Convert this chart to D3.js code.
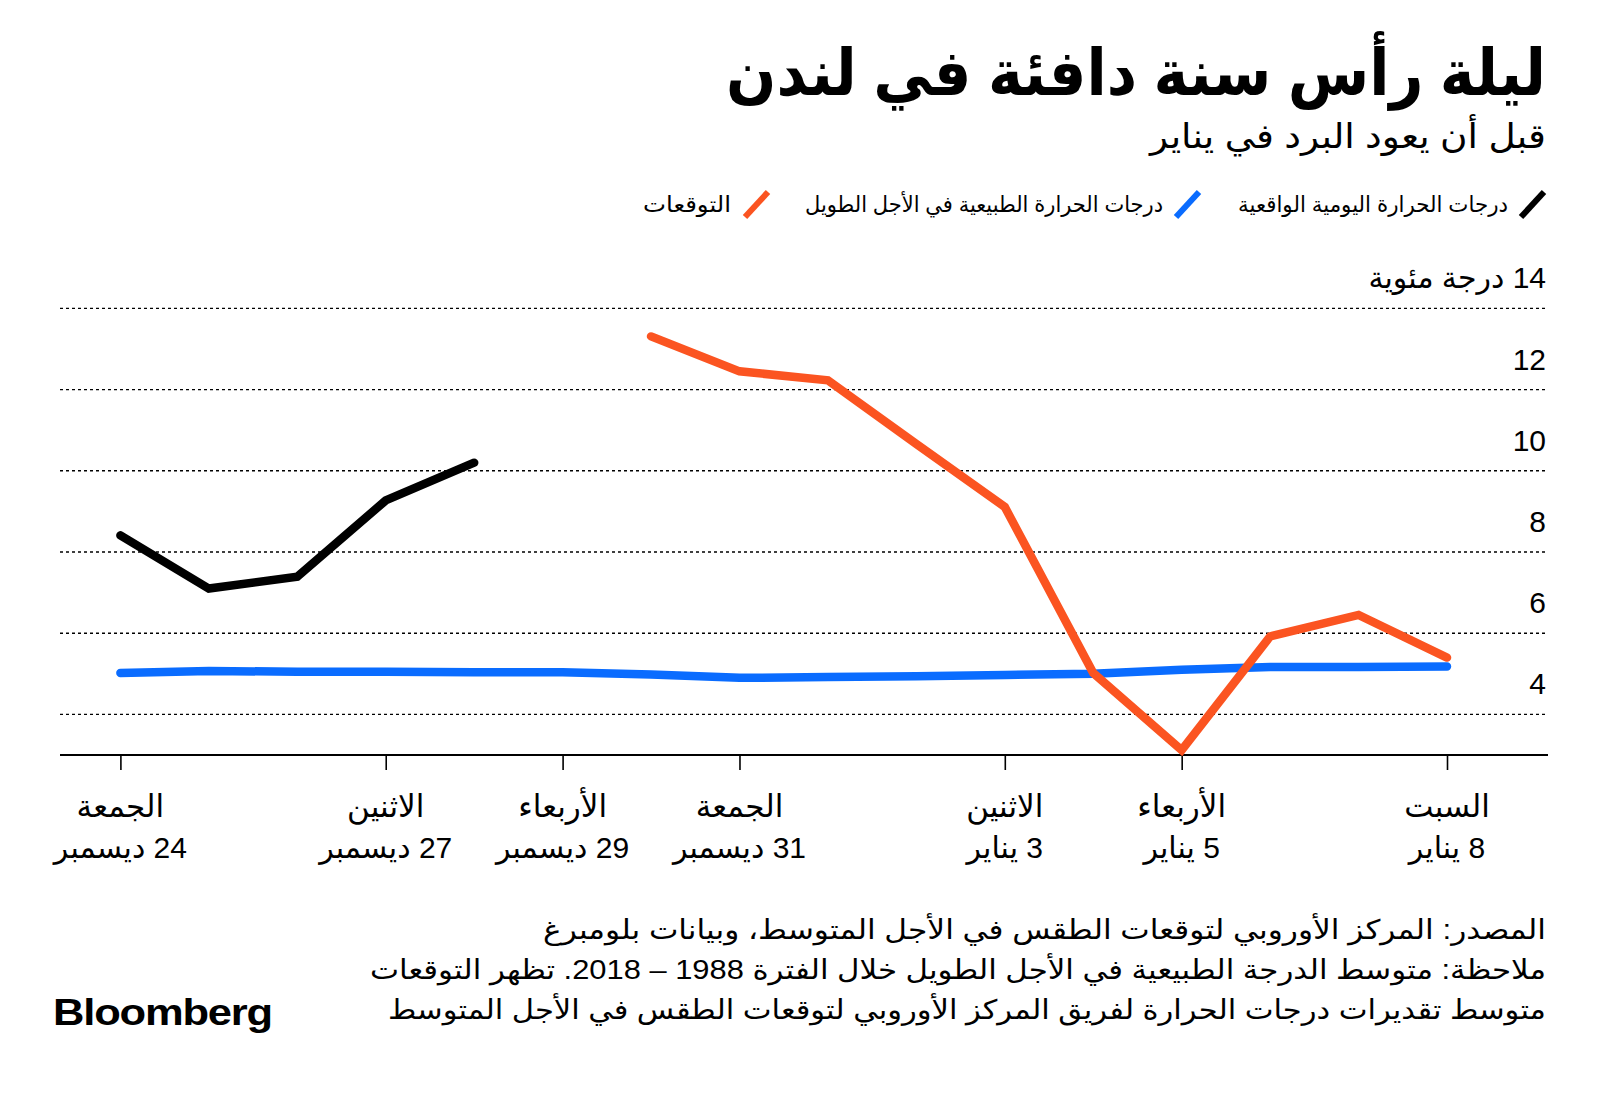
<!DOCTYPE html>
<html>
<head>
<meta charset="utf-8">
<script src="https://cdn.jsdelivr.net/npm/d3@7/dist/d3.min.js"></script>
<style>
  html, body { margin: 0; padding: 0; background: #fff; }
  svg { display: block; }
  text { font-family: "Liberation Sans Narrow", "Liberation Sans", "DejaVu Sans", sans-serif; }
</style>
</head>
<body>
<svg id="chart" width="1600" height="1093"></svg>
<script>
// ---- Data ----
const dates = ["2021-12-24","2021-12-25","2021-12-26","2021-12-27","2021-12-28","2021-12-29","2021-12-30","2021-12-31",
               "2022-01-01","2022-01-02","2022-01-03","2022-01-04","2022-01-05","2022-01-06","2022-01-07","2022-01-08"];
const actual = [8.41, 7.10, 7.39, 9.27, 10.20, null, null, null, null, null, null, null, null, null, null, null];
const normal = [5.02, 5.07, 5.05, 5.05, 5.04, 5.04, 4.98, 4.90, 4.92, 4.94, 4.97, 5.00, 5.10, 5.17, 5.17, 5.18];
const forecast = [null, null, null, null, null, null, 13.31, 12.45, 12.23, 10.66, 9.11, 5.02, 3.12, 5.92, 6.45, 5.40];
const yTicks = [4, 6, 8, 10, 12, 14];
const xTickDates = ["2021-12-24","2021-12-27","2021-12-29","2021-12-31","2022-01-03","2022-01-05","2022-01-08"];
const xTickDays = ["الجمعة","الاثنين","الأربعاء","الجمعة","الاثنين","الأربعاء","السبت"];
const xTickDateLabels = ["24 ديسمبر","27 ديسمبر","29 ديسمبر","31 ديسمبر","3 يناير","5 يناير","8 يناير"];
const seriesNames = ["درجات الحرارة اليومية الواقعية","درجات الحرارة الطبيعية في الأجل الطويل","التوقعات"];
const title = "ليلة رأس سنة دافئة في لندن";
const subtitle = "قبل أن يعود البرد في يناير";
const yUnit = "درجة مئوية";
const footnotes = [
  "المصدر: المركز الأوروبي لتوقعات الطقس في الأجل المتوسط، وبيانات بلومبرغ",
  "ملاحظة: متوسط الدرجة الطبيعية في الأجل الطويل خلال الفترة 1988 – 2018. تظهر التوقعات",
  "متوسط تقديرات درجات الحرارة لفريق المركز الأوروبي لتوقعات الطقس في الأجل المتوسط"
];

// ---- Setup ----
const parse = d3.utcParse("%Y-%m-%d");
const svg = d3.select("#chart");
const colors = ["#000000", "#0a6cff", "#fb5421"];

const x = d3.scaleUtc().domain([parse(dates[0]), parse(dates[dates.length - 1])]).range([120.4, 1447]);
const y = d3.scaleLinear().domain([3, 14]).range([755, 308.4]);
const plotLeft = 60, plotRight = 1548, rightEdge = 1546;

function rtl(sel, px, py, txt, size, weight, anchor, width) {
  const t = sel.append("text")
    .attr("x", px).attr("y", py)
    .attr("direction", "rtl")
    .attr("text-anchor", anchor)
    .attr("font-size", size)
    .attr("font-weight", weight)
    .attr("fill", "#000")
    .text(txt);
  if (width) t.attr("textLength", width).attr("lengthAdjust", "spacingAndGlyphs");
  return t;
}

// Title & subtitle
rtl(svg, rightEdge, 95, title, 64, "bold", "start", 820);
rtl(svg, rightEdge, 148, subtitle, 34, "normal", "start", 396);

// Legend
const legendItems = [
  { iconX: 1518, textX: 1508, w: 270 },
  { iconX: 1173, textX: 1163, w: 358 },
  { iconX: 742, textX: 731, w: 88 }
];
legendItems.forEach((it, i) => {
  svg.append("line")
    .attr("x1", it.iconX + 3).attr("y1", 217)
    .attr("x2", it.iconX + 26).attr("y2", 192)
    .attr("stroke", colors[i]).attr("stroke-width", 6);
  rtl(svg, it.textX, 212, seriesNames[i], 22, "normal", "start", it.w);
});

// Gridlines
svg.append("g").selectAll("line").data(yTicks).join("line")
  .attr("x1", plotLeft).attr("x2", plotRight)
  .attr("y1", d => y(d)).attr("y2", d => y(d))
  .attr("stroke", "#000").attr("stroke-width", 1.4)
  .attr("stroke-dasharray", "3,3");

// Y tick labels
svg.append("g").selectAll("text").data(yTicks).join("text")
  .attr("x", rightEdge).attr("y", d => y(d) - 20)
  .attr("direction", "rtl")
  .attr("text-anchor", "start")
  .attr("font-size", 30)
  .attr("fill", "#000")
  .text(d => d === 14 ? d + " " + yUnit : String(d));

// X axis
const xAxis = d3.axisBottom(x)
  .tickValues(xTickDates.map(parse))
  .tickSize(15)
  .tickFormat("");
const ax = svg.append("g").attr("transform", "translate(0,755)").call(xAxis);
ax.select(".domain").remove();
ax.selectAll(".tick line").attr("stroke", "#000").attr("stroke-width", 1.6);
svg.append("line").attr("x1", plotLeft).attr("x2", plotRight).attr("y1", 755).attr("y2", 755)
  .attr("stroke", "#000").attr("stroke-width", 2.2);

xTickDates.forEach((d, i) => {
  const px = x(parse(d));
  rtl(svg, px, 817, xTickDays[i], 31, "normal", "middle");
  rtl(svg, px, 858, xTickDateLabels[i], 30, "normal", "middle");
});

// Lines
const series = [actual, normal, forecast];
const line = d3.line()
  .defined(d => d.v !== null)
  .x(d => x(d.date))
  .y(d => y(d.v));
series.forEach((s, i) => {
  const pts = dates.map((d, j) => ({ date: parse(d), v: s[j] }));
  svg.append("path")
    .datum(pts)
    .attr("d", line)
    .attr("fill", "none")
    .attr("stroke", colors[i])
    .attr("stroke-width", 8.5)
    .attr("stroke-linejoin", "miter")
    .attr("stroke-linecap", "round");
});

// Footnotes
const footW = [1003, 1176, 1158];
footnotes.forEach((f, i) => {
  rtl(svg, rightEdge, 939 + i * 40, f, 27, "normal", "start", footW[i]);
});

// Bloomberg logo
svg.append("text")
  .attr("x", 53).attr("y", 1025)
  .attr("font-family", "Liberation Sans, Arial, sans-serif")
  .attr("font-size", 37)
  .attr("font-weight", "bold")
  .attr("letter-spacing", -1)
  .attr("textLength", 219)
  .attr("lengthAdjust", "spacingAndGlyphs")
  .attr("fill", "#000")
  .text("Bloomberg");
</script>
</body>
</html>
